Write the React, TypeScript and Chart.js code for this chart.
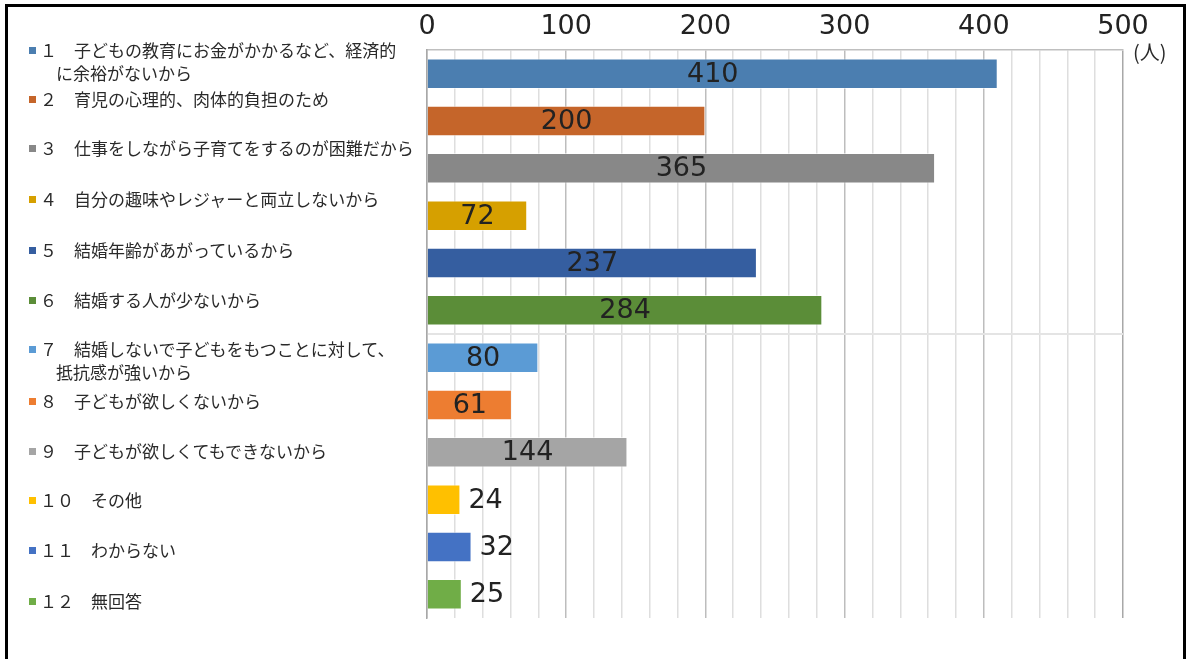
import React, { useEffect, useRef } from "react";
import { Chart, registerables } from "chart.js";

Chart.register(...registerables);

const categories: string[] = [
  "１　子どもの教育にお金がかかるなど、経済的\nに余裕がないから",
  "２　育児の心理的、肉体的負担のため",
  "３　仕事をしながら子育てをするのが困難だから",
  "４　自分の趣味やレジャーと両立しないから",
  "５　結婚年齢があがっているから",
  "６　結婚する人が少ないから",
  "７　結婚しないで子どもをもつことに対して、\n抵抗感が強いから",
  "８　子どもが欲しくないから",
  "９　子どもが欲しくてもできないから",
  "１０　その他",
  "１１　わからない",
  "１２　無回答",
];

const values: number[] = [410, 200, 365, 72, 237, 284, 80, 61, 144, 24, 32, 25];

const barColors: string[] = [
  "#4B7EB0",
  "#C5652A",
  "#888888",
  "#D6A000",
  "#355EA0",
  "#5B8D38",
  "#5B9BD5",
  "#ED7D31",
  "#A5A5A5",
  "#FFC000",
  "#4472C4",
  "#70AD47",
];

const axisMin = 0;
const axisMax = 500;
const minorStep = 20;
const majorStep = 100;
const unitLabel = "(人)";

// layout of the legend-like label column
const labelTops: number[] = [50, 99, 148, 199, 250, 300, 349, 401, 451, 500, 550, 601];

const valueLabelPlugin = {
  id: "valueLabels",
  afterDatasetsDraw(chart: any) {
    const ctx = chart.ctx;
    const meta = chart.getDatasetMeta(0);
    ctx.save();
    ctx.font = "27px 'DejaVu Sans'";
    ctx.fillStyle = "#222222";
    ctx.textBaseline = "middle";
    meta.data.forEach((bar: any, i: number) => {
      const v = values[i];
      const { x, y, base } = bar.getProps(["x", "y", "base"], true);
      if (v >= 50) {
        ctx.textAlign = "center";
        ctx.fillText(String(v), (x + base) / 2, y + 1);
      } else {
        ctx.textAlign = "left";
        ctx.fillText(String(v), x + 8, y + 1);
      }
    });
    ctx.restore();
  },
};

export default function App() {
  const canvasRef = useRef<HTMLCanvasElement | null>(null);

  useEffect(() => {
    if (!canvasRef.current) return;
    const chart = new Chart(canvasRef.current, {
      type: "bar",
      data: {
        labels: categories.map((c) => c.replace("\n", "")),
        datasets: [
          {
            data: values,
            backgroundColor: barColors,
            borderColor: "rgba(255,255,255,0.55)",
            borderWidth: 1,
            barPercentage: 0.645,
            categoryPercentage: 1,
          },
        ],
      },
      options: {
        indexAxis: "y",
        responsive: false,
        animation: false,
        devicePixelRatio: 1,
        layout: { padding: { left: 427, right: 69, top: 8, bottom: 41 } },
        plugins: {
          legend: { display: false },
          tooltip: { enabled: false },
        },
        scales: {
          x: {
            position: "top",
            min: axisMin,
            max: axisMax,
            afterFit: (scale: any) => {
              scale.height = 42;
            },
            ticks: {
              stepSize: minorStep,
              autoSkip: false,
              maxRotation: 0,
              padding: 7,
              color: "#222222",
              font: { family: "'DejaVu Sans'", size: 27 },
              callback: (v: any) => (Number(v) % majorStep === 0 ? String(v) : ""),
            },
            grid: {
              drawTicks: false,
              tickLength: 0,
              lineWidth: 1.5,
              color: (c: any) => {
                const v = c.tick ? c.tick.value : 0;
                if (v === axisMax) return "#a8a8a8";
                return v % majorStep === 0 ? "#bdbdbd" : "#dedede";
              },
            },
            border: { display: true, color: "#bfbfbf", width: 1.5 },
          },
          y: {
            afterFit: (scale: any) => {
              scale.width = 0;
            },
            ticks: { display: false },
            grid: {
              drawTicks: false,
              tickLength: 0,
              offset: true,
              lineWidth: 2,
              color: (c: any) => {
                if (c.index === 6) return "#e4e4e4";
                if (c.index === categories.length) return "#a8a8a8";
                return "rgba(0,0,0,0)";
              },
            },
            border: { display: true, color: "#a8a8a8", width: 1.5 },
          },
        },
      },
      plugins: [valueLabelPlugin],
    } as any);
    return () => chart.destroy();
  }, []);

  const textColor = "#2a2a2a";
  const cjk = "'Noto Sans CJK JP', sans-serif";

  return (
    <div
      style={{
        position: "absolute",
        left: 0,
        top: 0,
        width: 1192,
        height: 659,
        overflow: "hidden",
        background: "#ffffff",
      }}
    >
      <div
        style={{
          position: "absolute",
          left: 5,
          top: 4,
          width: 1181,
          height: 720,
          border: "3px solid #000",
          boxSizing: "border-box",
        }}
      />
      <canvas
        ref={canvasRef}
        width={1192}
        height={659}
        style={{ position: "absolute", left: 0, top: 0 }}
      />
      {categories.map((c, i) => {
        const lines = c.split("\n");
        return (
          <div key={i}>
            <div
              style={{
                position: "absolute",
                left: 29,
                top: labelTops[i] - 3,
                width: 7,
                height: 7,
                background: barColors[i],
              }}
            />
            {lines.map((ln, j) => (
              <div
                key={j}
                style={{
                  position: "absolute",
                  left: j === 0 ? 40 : 56,
                  top: labelTops[i] + j * 23 - 12,
                  height: 24,
                  lineHeight: "24px",
                  fontFamily: cjk,
                  fontSize: 17,
                  color: textColor,
                  whiteSpace: "nowrap",
                }}
              >
                {ln}
              </div>
            ))}
          </div>
        );
      })}
      <div
        style={{
          position: "absolute",
          left: 1133,
          top: 40,
          lineHeight: "24px",
          fontFamily: cjk,
          fontSize: 20,
          color: textColor,
          whiteSpace: "nowrap",
        }}
      >
        {unitLabel}
      </div>
    </div>
  );
}
